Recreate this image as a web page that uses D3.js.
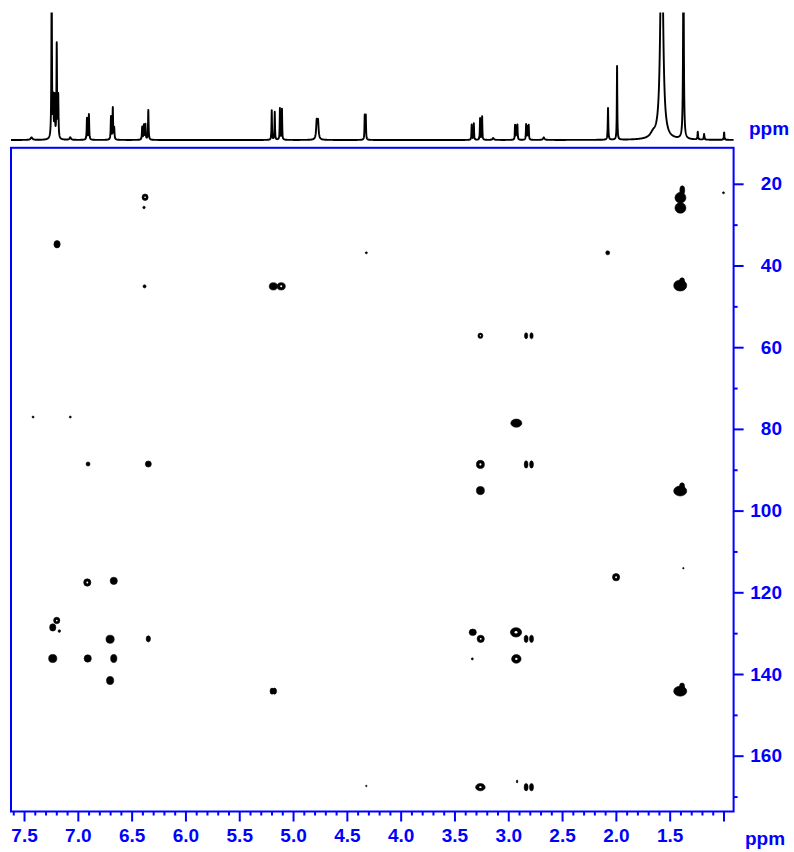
<!DOCTYPE html>
<html><head><meta charset="utf-8">
<script src="https://cdn.jsdelivr.net/npm/d3@7"></script>
<style>body{margin:0;background:#fff}svg{display:block}</style>
</head><body>
<svg id="chart" width="794" height="852"></svg>
<script>
// ================= DATA =================
// axis ranges (ppm)
const protonDomain = [7.621, 0.906];
const carbonDomain = [11.19, 173.66];
// tick values and labels
const xMajorTicks = [7.5, 7.0, 6.5, 6.0, 5.5, 5.0, 4.5, 4.0, 3.5, 3.0, 2.5, 2.0, 1.5, 1.0];
const xTickLabels = ["7.5", "7.0", "6.5", "6.0", "5.5", "5.0", "4.5", "4.0", "3.5", "3.0", "2.5", "2.0", "1.5", ""];
const yMajorTicks = [20, 40, 60, 80, 100, 120, 140, 160];
const yTickLabels = ["20", "40", "60", "80", "100", "120", "140", "160"];
const yMinorTicks = [30, 50, 70, 90, 110, 130, 150, 170];
const axisUnit = "ppm";

// 1D proton projection: peak list [ppm, relative height, line width (ppm)]
const protonPeaks = [
  [7.43, 0.02, 0.02], [7.243, 1.3, 0.006], [7.228, 0.30, 0.006], [7.215, 0.32, 0.006],
  [7.196, 0.74, 0.006], [7.182, 0.33, 0.006], [7.07, 0.02, 0.015],
  [6.915, 0.17, 0.006], [6.897, 0.20, 0.006],
  [6.692, 0.18, 0.006], [6.675, 0.25, 0.006], [6.662, 0.09, 0.006],
  [6.402, 0.10, 0.006], [6.386, 0.115, 0.006], [6.372, 0.12, 0.006], [6.345, 0.235, 0.006],
  [5.198, 0.232, 0.005], [5.170, 0.22, 0.005], [5.122, 0.248, 0.005], [5.103, 0.242, 0.005],
  [4.780, 0.14, 0.012], [4.768, 0.14, 0.012],
  [4.334, 0.19, 0.005], [4.324, 0.19, 0.005],
  [3.340, 0.12, 0.005], [3.320, 0.13, 0.005], [3.262, 0.17, 0.005], [3.243, 0.185, 0.005],
  [3.14, 0.015, 0.015],
  [2.937, 0.115, 0.005], [2.925, 0.10, 0.005], [2.915, 0.115, 0.005],
  [2.834, 0.12, 0.005], [2.822, 0.10, 0.005], [2.810, 0.115, 0.005],
  [2.67, 0.02, 0.015],
  [2.073, 0.25, 0.006], [1.989, 0.58, 0.005],
  [1.655, 0.035, 0.06], [1.574, 2.0, 0.026], [1.372, 1.5, 0.008],
  [1.239, 0.06, 0.006], [1.18, 0.045, 0.006], [0.994, 0.058, 0.006]
];

// 2D HMBC cross peaks: [1H ppm, 13C ppm, 1H width (ppm), 13C width (ppm), has inner contour hole]
const crossPeaks = [
  [6.375, 23.3, .056, 1.6, 1], [6.385, 25.8, .023, .61, 0], [7.193, 34.8, .058, 1.8, 0],
  [6.380, 45.1, .028, .8, 0], [5.183, 45.1, .076, 1.8, 0], [5.110, 45.1, .076, 1.8, 1],
  [4.319, 36.9, .02, .5, 0], [2.076, 36.9, .037, 1.0, 0], [1.000, 22.2, .019, .49, 0],
  [1.383, 21.6, .045, 2.2, 0], [1.400, 23.4, .102, 2.6, 0], [1.400, 25.9, .102, 2.6, 0],
  [1.402, 44.9, .121, 2.7, 0], [1.385, 43.8, .046, 1.6, 0],
  [3.259, 57.2, .046, 1.3, 1], [2.834, 57.2, .03, 1.5, 0], [2.784, 57.2, .03, 1.5, 0],
  [2.925, 78.6, .102, 2.0, 0],
  [3.259, 88.7, .074, 2.0, 1], [2.834, 88.7, .035, 1.8, 0], [2.784, 88.7, .035, 1.8, 0],
  [3.259, 95.1, .074, 2.0, 0], [1.402, 95.2, .121, 2.45, 0], [1.385, 94.0, .046, 1.6, 0],
  [1.373, 114.1, .014, .37, 0], [1.998, 116.3, .067, 1.8, 1],
  [1.402, 144.2, .121, 2.45, 0], [1.385, 143.0, .046, 1.6, 0],
  [6.912, 117.6, .067, 1.8, 1], [6.666, 117.2, .067, 1.8, 0],
  [7.196, 126.9, .058, 1.6, 1], [7.233, 128.6, .058, 1.8, 0], [7.172, 129.5, .023, .65, 0],
  [6.700, 131.5, .076, 2.0, 0], [6.345, 131.4, .04, 1.5, 0],
  [7.233, 136.2, .076, 2.0, 0], [6.908, 136.2, .067, 1.8, 0], [6.666, 136.2, .058, 2.0, 0],
  [6.700, 141.6, .067, 2.0, 0],
  [5.195, 144.2, .037, 1.5, 0], [5.172, 144.2, .037, 1.5, 0],
  [3.330, 129.8, .067, 1.6, 0], [3.256, 131.4, .067, 1.8, 1], [2.928, 129.8, .104, 2.3, 1],
  [2.834, 131.4, .037, 1.8, 0], [2.784, 131.4, .037, 1.8, 0],
  [3.334, 136.3, .019, .5, 0], [2.925, 136.3, .088, 2.1, 1],
  [3.259, 167.7, .088, 1.8, 1], [2.918, 166.3, .014, .75, 0],
  [2.834, 167.7, .037, 1.8, 0], [2.784, 167.7, .037, 1.8, 0],
  [4.319, 167.4, .014, .37, 0],
  [7.416, 77.1, .019, .5, 0], [7.070, 77.1, .019, .5, 0],
  [6.905, 88.6, .037, 1.0, 0], [6.345, 88.6, .056, 1.5, 0]
];

// ================= DRAWING =================
const svg = d3.select("#chart");
const BLUE = "#0000ff";
const FONT = "'Liberation Sans', Arial, Helvetica, sans-serif";
const frame = {left: 11, right: 733.6, top: 147.8, bottom: 811.5};

const x = d3.scaleLinear().domain(protonDomain).range([frame.left, frame.right]);
const y = d3.scaleLinear().domain(carbonDomain).range([frame.top, frame.bottom]);
const y1 = d3.scaleLinear().domain([0, 1]).range([140, 13]);

// ---- 1D projection ----
svg.append("clipPath").attr("id", "clip1d").append("rect")
  .attr("x", frame.left - 1).attr("y", 12.5).attr("width", frame.right - frame.left + 2).attr("height", 135);
const samples = d3.range(protonDomain[0], protonDomain[1], -0.0015)
  .concat(protonPeaks.map(p => p[0])).concat([protonDomain[1]])
  .sort((a, b) => b - a);
const trace = samples.map(s => {
  let v = 0;
  for (const [c, h, w] of protonPeaks) { const t = (s - c) / (w / 2); v += h / (1 + t * t); }
  return [s, v];
});
svg.append("path").datum(trace)
  .attr("clip-path", "url(#clip1d)")
  .attr("fill", "none").attr("stroke", "#000").attr("stroke-width", 1.9).attr("stroke-linejoin", "round")
  .attr("d", d3.line().x(d => x(d[0])).y(d => y1(d[1])));

svg.append("text").attr("x", 749).attr("y", 134.5).text(axisUnit)
  .attr("font-family", FONT).attr("font-weight", "bold").attr("font-size", 19).attr("fill", BLUE);

// ---- 2D contour peaks ----
const gPk = svg.append("g");
crossPeaks.forEach(([h, c, dh, dc, ring]) => {
  const cx = x(h), cy = y(c);
  const rx = Math.abs(x(h - dh / 2) - x(h + dh / 2)) / 2;
  const ry = Math.abs(y(c + dc / 2) - y(c - dc / 2)) / 2;
  gPk.append("ellipse").attr("cx", cx).attr("cy", cy).attr("rx", rx).attr("ry", ry)
    .attr("fill", "#000").attr("stroke", "#000").attr("stroke-width", 0.6);
  if (ring) {
    gPk.append("ellipse").attr("cx", cx).attr("cy", cy).attr("rx", rx * 0.26).attr("ry", ry * 0.26)
      .attr("fill", "#fff");
  }
});

// ---- frame ----
svg.append("rect").attr("x", frame.left).attr("y", frame.top)
  .attr("width", frame.right - frame.left).attr("height", frame.bottom - frame.top)
  .attr("fill", "none").attr("stroke", BLUE).attr("stroke-width", 2);

// ---- X axis (bottom) ----
const xMinor = d3.range(76, 9, -1).map(v => v / 10).filter(v => !xMajorTicks.some(m => Math.abs(m - v) < 1e-6));
const xAxis = d3.axisBottom(x).tickValues(xMajorTicks).tickSize(10).tickPadding(7)
  .tickFormat((d, i) => xTickLabels[i]);
const gx = svg.append("g").attr("transform", `translate(0,${frame.bottom})`).call(xAxis);
gx.select(".domain").remove();
const gxm = svg.append("g").attr("transform", `translate(0,${frame.bottom})`)
  .call(d3.axisBottom(x).tickValues(xMinor).tickSize(4).tickFormat(""));
gxm.select(".domain").remove();

// ---- Y axis (right) ----
const yAxis = d3.axisRight(y).tickValues(yMajorTicks).tickSize(10).tickPadding(0)
  .tickFormat((d, i) => yTickLabels[i]);
const gy = svg.append("g").attr("transform", `translate(${frame.right},0)`).call(yAxis);
gy.select(".domain").remove();
gy.selectAll("text").attr("x", 782 - frame.right).attr("text-anchor", "end");
const gym = svg.append("g").attr("transform", `translate(${frame.right},0)`)
  .call(d3.axisRight(y).tickValues(yMinorTicks).tickSize(4).tickFormat(""));
gym.select(".domain").remove();

svg.selectAll(".tick line").attr("stroke", BLUE).attr("stroke-width", 2);
svg.selectAll(".tick text").attr("fill", BLUE).attr("font-family", FONT)
  .attr("font-weight", "bold").attr("font-size", 19);

svg.append("text").attr("x", 745).attr("y", 844.5).text(axisUnit)
  .attr("font-family", FONT).attr("font-weight", "bold").attr("font-size", 19).attr("fill", BLUE);
</script>
</body></html>
